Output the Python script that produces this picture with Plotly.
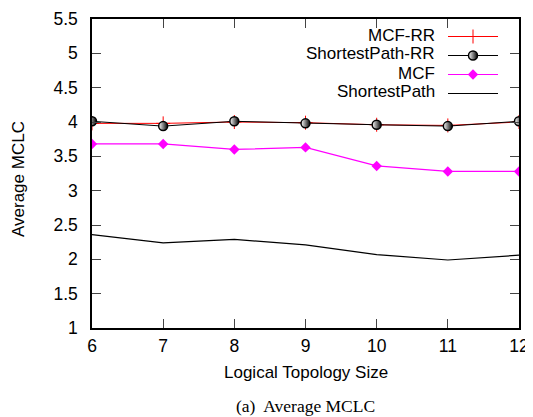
import plotly.graph_objects as go

x_sizes = [6, 7, 8, 9, 10, 11, 12]
mcf_rr = [3.98, 3.98, 4.00, 3.99, 3.96, 3.95, 4.00]
sp_rr = [4.01, 3.94, 4.01, 3.98, 3.96, 3.94, 4.01]
mcf = [3.68, 3.68, 3.60, 3.63, 3.36, 3.28, 3.28]
sp = [2.36, 2.24, 2.29, 2.21, 2.07, 1.99, 2.06]
series_names = ["MCF-RR", "ShortestPath-RR", "MCF", "ShortestPath"]
y_ticks = [1, 1.5, 2, 2.5, 3, 3.5, 4, 4.5, 5, 5.5]

FONT = "Liberation Sans, Arial, sans-serif"
FS = 17

fig = go.Figure()
fig.add_trace(go.Scatter(x=x_sizes, y=mcf_rr, name=" ", mode="lines+markers",
                         line=dict(color="#ff0000", width=1),
                         marker=dict(symbol="cross-thin-open", size=10,
                                     line=dict(color="#ff0000", width=1))))
fig.add_trace(go.Scatter(x=x_sizes, y=sp_rr, name="  ", mode="lines+markers",
                         line=dict(color="black", width=1),
                         marker=dict(symbol="circle", size=9, color="white",
                                     gradient=dict(type="horizontal", color="black"),
                                     line=dict(color="black", width=1.5))))
fig.add_trace(go.Scatter(x=x_sizes, y=mcf, name="   ", mode="lines+markers",
                         line=dict(color="#ff00ff", width=1.2),
                         marker=dict(symbol="diamond", size=8, color="#ff00ff")))
fig.add_trace(go.Scatter(x=x_sizes, y=sp, name="    ", mode="lines",
                         line=dict(color="black", width=1.2)))

# page body has an 8px margin, so work in screen pixels and offset
OFF = 8
SW, SH = 533, 417
W, H = SW - OFF, SH - OFF
# plot area in screen pixels
X0, X1, Y0, Y1 = 92, 519, 19, 328
L, T = X0 - OFF, Y0 - OFF
R, B = W - (X1 - OFF), H - (Y1 - OFF)
pw = X1 - X0
ph = Y1 - Y0

def px(xs):
    return (xs - X0) / pw

def py(ys):
    return 1 - (ys - Y0) / ph

annotations = []
row_y = [35 + 19 * i for i in range(4)]
for name, yy in zip(series_names, row_y):
    annotations.append(dict(text=name, x=px(437), y=py(yy), xref="paper", yref="paper",
                            xanchor="right", yanchor="middle", showarrow=False,
                            font=dict(family=FONT, size=FS, color="black")))
annotations.append(dict(text="(a)  Average MCLC", x=0.5, y=py(406), xref="paper", yref="paper",
                        xanchor="center", yanchor="middle", showarrow=False,
                        font=dict(family="Liberation Serif, Times New Roman, serif", size=17.5, color="black")))
annotations.append(dict(text="Logical Topology Size", x=0.5, y=py(372), xref="paper", yref="paper",
                        xanchor="center", yanchor="middle", showarrow=False,
                        font=dict(family=FONT, size=FS, color="black")))
annotations.append(dict(text="Average MCLC", x=px(18), y=py(179), xref="paper", yref="paper",
                        xanchor="center", yanchor="middle", showarrow=False, textangle=-90,
                        font=dict(family=FONT, size=FS, color="black")))

fig.update_layout(
    width=W, height=H,
    margin=dict(l=L, r=R, t=T, b=B, autoexpand=False),
    paper_bgcolor="white", plot_bgcolor="white",
    font=dict(family=FONT, size=FS, color="black"),
    showlegend=True,
    legend=dict(x=px(443), y=py(22), xanchor="left", yanchor="top",
                bgcolor="rgba(0,0,0,0)", itemwidth=50,
                font=dict(size=11), tracegroupgap=0),
    annotations=annotations,
    xaxis=dict(range=[6, 12], tickvals=x_sizes, ticks="inside", ticklen=9, tickwidth=1.2,
               showline=True, linecolor="black", linewidth=1.5, mirror="ticks",
               showgrid=False, zeroline=False, automargin=False,
               ticklabelstandoff=1, tickfont=dict(size=17.5)),
    yaxis=dict(range=[1, 5.5], tickvals=y_ticks, ticks="inside", ticklen=9, tickwidth=1.2,
               showline=True, linecolor="black", linewidth=1.5, mirror="ticks",
               showgrid=False, zeroline=False, automargin=False,
               ticklabelstandoff=9, tickfont=dict(size=17.5)),
)

fig.write_html("out.html")
